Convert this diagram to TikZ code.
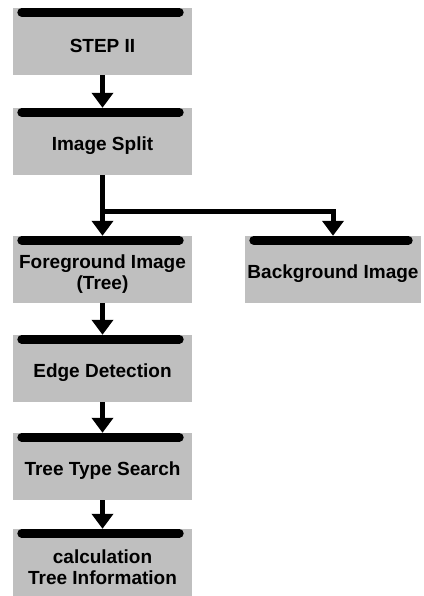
\documentclass[tikz,border=0pt]{standalone}
\usepackage{fontspec}
\setmainfont{Liberation Sans}
\usetikzlibrary{arrows.meta}

\begin{document}
\begin{tikzpicture}[x=1pt, y=-1pt,
    box/.style={fill=black!25, minimum width=179pt, minimum height=58pt,
        inner sep=0pt, align=center, font=\fontsize{19}{21}\selectfont\bfseries},
    topbar/.style={line width=9pt, line cap=round},
    flow/.style={line width=5pt, -{Triangle[length=15pt, width=21pt]}}]
        \useasboundingbox (0,0) rectangle (423,596);

        \node[box] (step) at (102.5, 46) {STEP II};
        \node[box] (split) at (102.5, 146) {Image Split};
        \node[box] (fg) at (102.5, 274) {Foreground Image\\(Tree)};
        \node[box, minimum width=176pt] (bg) at (333, 274) {Background Image};
        \node[box] (edge) at (102.5, 373) {Edge Detection};
        \node[box] (search) at (102.5, 471) {Tree Type Search};
        \node[box] (calc) at (102.5, 567) {calculation\\Tree Information};

        % grey strip and black bar on top of each box
        \foreach \n in {step,split,fg,bg,edge,search,calc} {
            \fill[black!25] (\n.north west) rectangle ([yshift=9pt]\n.north east);
            \draw[topbar] ([xshift=9pt, yshift=4.5pt]\n.north west)
                -- ([xshift=-13pt, yshift=4.5pt]\n.north east);
        }

        \coordinate (splittop) at ([yshift=9pt]split.north);
        \coordinate (fgtop) at ([yshift=9pt]fg.north);
        \coordinate (bgtop) at ([yshift=9pt]bg.north);
        \coordinate (edgetop) at ([yshift=9pt]edge.north);
        \coordinate (searchtop) at ([yshift=9pt]search.north);
        \coordinate (calctop) at ([yshift=9pt]calc.north);
        \coordinate (fork) at ([yshift=-36pt]split.south);

        \draw[flow] (step) -- (splittop);
        \draw[flow] (split) -- (fgtop);
        \draw[flow] (fork) -| (bgtop);
        \draw[flow] (fg) -- (edgetop);
        \draw[flow] (edge) -- (searchtop);
        \draw[flow] (search) -- (calctop);
    \end{tikzpicture}
\end{document}
